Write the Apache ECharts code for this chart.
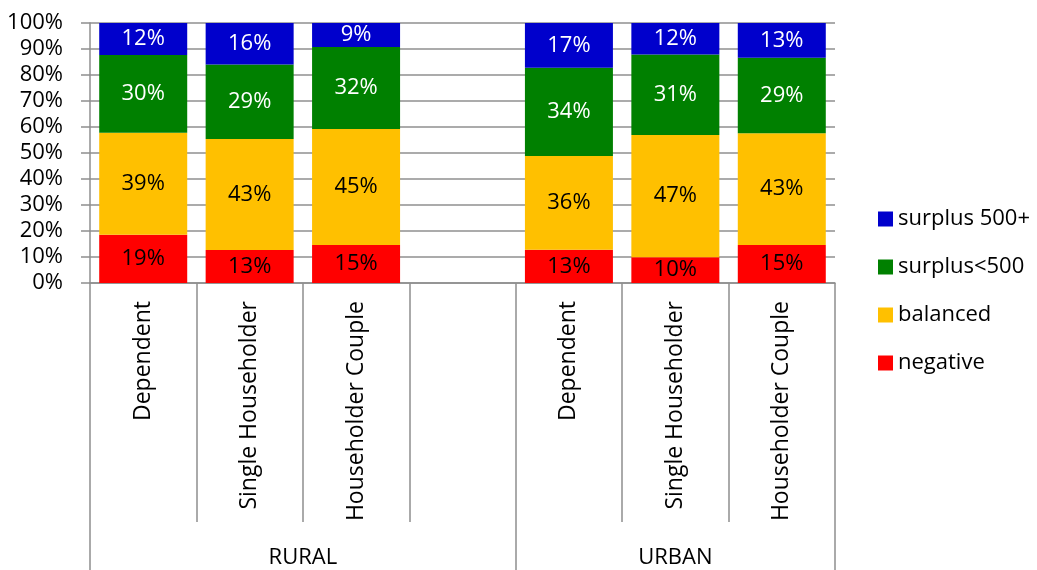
<!DOCTYPE html>
<html>
<head>
<meta charset="utf-8">
<script src="https://cdn.jsdelivr.net/npm/echarts@6/dist/echarts.min.js"></script>
<style>
html,body{margin:0;padding:0;background:#fff;}
#chart{width:1037px;height:570px;}
</style>
</head>
<body>
<div id="chart"></div>
<script>
// categories (empty slot separates the two groups)
var categories = ['Dependent', 'Single Householder', 'Householder Couple', '', 'Dependent', 'Single Householder', 'Householder Couple'];
// group labels on a 15-point half-slot scale
var groupLabels = ['', '', '', '', 'RURAL', '', '', '', '', '', '', 'URBAN', '', '', ''];
var groupBoundaries = [0, 8, 14];

var negative   = [18.6, 12.7, 14.6, null, 12.8, 9.9, 14.6];
var balanced   = [39.2, 42.7, 44.6, null, 36.0, 47.0, 43.0];
var surplusLow = [29.9, 28.6, 31.6, null, 34.0, 31.0, 29.0];
var surplusHigh= [12.3, 16.0, 9.2, null, 17.2, 12.1, 13.4];

var FONT = 'Open Sans';
var GRAY = '#8f8f8f';

function mkSeries(name, data, color, labelColor) {
  return {
    name: name, type: 'bar', stack: 'total', data: data,
    barWidth: 88,
    itemStyle: { color: color },
    label: {
      show: true, position: 'inside', color: labelColor,
      fontFamily: FONT, fontSize: 22,
      formatter: function (p) { return p.value == null ? '' : Math.round(p.value) + '%'; }
    },
    emphasis: { disabled: true }
  };
}

var chart = echarts.init(document.getElementById('chart'), null, { renderer: 'canvas' });
chart.setOption({
  animation: false,
  backgroundColor: '#fff',
  grid: { left: 90, right: 202, top: 23, bottom: 287, containLabel: false },
  legend: {
    orient: 'vertical', left: 878, top: 208, padding: 0,
    itemWidth: 15, itemHeight: 15, itemGap: 26,
    icon: 'rect',
    data: ['surplus 500+', 'surplus<500', 'balanced', 'negative'],
    textStyle: { fontFamily: FONT, fontSize: 22, color: '#000', lineHeight: 22 }
  },
  xAxis: [{
    type: 'category', data: categories, position: 'bottom',
    axisLine: { show: true, lineStyle: { color: GRAY, width: 1.5 } },
    axisTick: { show: true, interval: 0, length: 239, lineStyle: { color: GRAY, width: 1.5 } },
    axisLabel: { interval: 0, rotate: 90, margin: 18, fontFamily: FONT, fontSize: 23, color: '#000' },
    splitLine: { show: false }
  }, {
    type: 'category', data: groupLabels, position: 'bottom', boundaryGap: false,
    axisLine: { show: false },
    axisTick: { show: true, length: 287, lineStyle: { color: GRAY, width: 1.5 },
      interval: function (i) { return groupBoundaries.indexOf(i) >= 0; } },
    axisLabel: { interval: 0, margin: 264, fontFamily: FONT, fontSize: 22, color: '#000' },
    splitLine: { show: false }
  }],
  yAxis: {
    type: 'value', min: 0, max: 100, interval: 10,
    axisLine: { show: true, lineStyle: { color: GRAY, width: 1.5 } },
    axisTick: { show: true, length: 9, lineStyle: { color: GRAY, width: 1.5 } },
    axisLabel: { margin: 27, fontFamily: FONT, fontSize: 22, color: '#000',
      formatter: function (v) { return v + '%'; } },
    splitLine: { show: true, lineStyle: { color: GRAY, width: 1.5 } }
  },
  series: [
    mkSeries('negative', negative, '#FF0000', '#000'),
    mkSeries('balanced', balanced, '#FFC000', '#000'),
    mkSeries('surplus<500', surplusLow, '#008000', '#fff'),
    mkSeries('surplus 500+', surplusHigh, '#0000CC', '#fff')
  ]
});
</script>
</body>
</html>
